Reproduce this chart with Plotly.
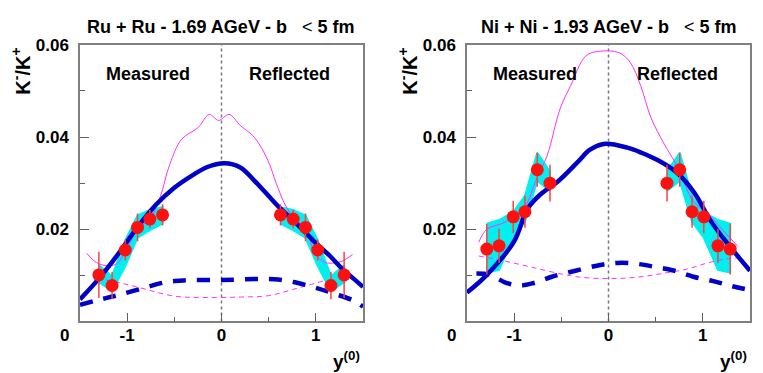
import plotly.graph_objects as go

W, H = 763, 373

# ---- Ru + Ru 1.69 AGeV, measured half (reflected half = mirror) ----
ru_y = [-1.30, -1.16, -1.02, -0.89, -0.76, -0.625]
ru_ratio = [0.0101, 0.0078, 0.0155, 0.0204, 0.0222, 0.0231]
ru_err = [0.0050, 0.0030, 0.0023, 0.0030, 0.0020, 0.0023]
ru_sys_lo = [0.0085, 0.0066, 0.0120, 0.0182, 0.0198, 0.0212]
ru_sys_hi = [0.0122, 0.0098, 0.0176, 0.0230, 0.0242, 0.0248]

ru_model_y = [-1.5, -1.3, -1.1, -0.9, -0.7, -0.5, -0.3, -0.15, 0.03, 0.2, 0.35,
              0.5, 0.61, 0.74, 0.87, 1.0, 1.15, 1.28, 1.4, 1.5]
ru_model = [0.0048, 0.0093, 0.0145, 0.0202, 0.0252, 0.0290, 0.0318, 0.0335, 0.0343,
            0.0334, 0.0305, 0.0272, 0.0248, 0.0223, 0.0197, 0.0170, 0.0142, 0.0114,
            0.0093, 0.0075]
ru_model2_y = [-1.5, -1.3, -1.1, -0.85, -0.6, -0.4, 0.0, 0.4, 0.6, 0.8, 1.0, 1.2, 1.4, 1.5]
ru_model2 = [0.0036, 0.0047, 0.0057, 0.0071, 0.0085, 0.0089, 0.0090, 0.0092, 0.0091,
             0.0084, 0.0073, 0.0060, 0.0045, 0.0032]
ru_up_y = [-1.43, -1.3, -1.12, -1.0, -0.89, -0.76, -0.65, -0.55, -0.42, -0.25, -0.13,
           -0.03, 0.08, 0.2, 0.35, 0.49, 0.58, 0.67, 0.78, 0.88, 1.0, 1.1, 1.2, 1.28, 1.39]
ru_up = [0.0148, 0.0125, 0.0124, 0.0160, 0.0200, 0.0222, 0.0270, 0.0340, 0.0396, 0.0420,
         0.0449, 0.0436, 0.0449, 0.0425, 0.0399, 0.0350, 0.0300, 0.0255, 0.0220, 0.0205,
         0.0145, 0.0128, 0.0127, 0.0131, 0.0145]
ru_lo_y = [-1.32, -1.1, -0.9, -0.5, -0.2, 0.2, 0.5, 0.8, 1.1]
ru_lo = [0.0093, 0.0085, 0.0075, 0.0055, 0.0052, 0.0053, 0.0056, 0.0072, 0.0089]

# ---- Ni + Ni 1.93 AGeV ----
ni_y = [-1.29, -1.16, -1.01, -0.886, -0.755, -0.62]
ni_ratio = [0.0157, 0.0164, 0.0227, 0.0238, 0.0329, 0.0300]
ni_err = [0.0055, 0.0037, 0.0035, 0.0035, 0.0037, 0.0040]
ni_sys_lo = [0.0106, 0.0112, 0.0182, 0.0216, 0.0305, 0.0283]
ni_sys_hi = [0.0212, 0.0220, 0.0237, 0.0272, 0.0366, 0.0325]

ni_model_y = [-1.5, -1.3, -1.0, -0.86, -0.72, -0.54, -0.33, -0.2, -0.05, 0.2, 0.35,
              0.52, 0.73, 0.91, 1.09, 1.27, 1.5]
ni_model = [0.0063, 0.0099, 0.0174, 0.0244, 0.0276, 0.0303, 0.0345, 0.0372, 0.0385,
            0.0377, 0.0366, 0.0350, 0.0322, 0.0279, 0.0216, 0.0167, 0.0110]
ni_model2_y = [-1.4, -1.25, -1.1, -0.95, -0.8, -0.6, -0.35, -0.1, 0.1, 0.3, 0.5, 0.7,
               0.9, 1.1, 1.3, 1.5]
ni_model2 = [0.0104, 0.0101, 0.0085, 0.0078, 0.0083, 0.0097, 0.0110, 0.0122, 0.0127,
             0.0125, 0.0118, 0.0110, 0.0097, 0.0088, 0.0077, 0.0068]
ni_up_y = [-1.375, -1.29, -1.1, -0.9, -0.76, -0.65, -0.51, -0.40, -0.24, -0.1, 0.11,
           0.23, 0.34, 0.45, 0.59, 0.73, 0.9, 1.05, 1.16, 1.37]
ni_up = [0.0172, 0.0200, 0.0215, 0.0245, 0.0310, 0.0360, 0.0463, 0.0512, 0.0576, 0.0586,
         0.0583, 0.0562, 0.0512, 0.0442, 0.0385, 0.0336, 0.0260, 0.0235, 0.0210, 0.0163]
ni_lo_y = [-1.375, -1.1, -0.8, -0.5, -0.3, 0.0, 0.3, 0.6, 0.84, 1.05, 1.23, 1.37]
ni_lo = [0.0142, 0.0131, 0.0117, 0.0103, 0.0096, 0.0093, 0.0096, 0.0105, 0.0114, 0.0127,
         0.0135, 0.0138]

panels = [
    ("x", "y", ru_y, ru_ratio, ru_err, ru_sys_lo, ru_sys_hi, ru_model_y, ru_model,
     ru_model2_y, ru_model2, ru_up_y, ru_up, ru_lo_y, ru_lo),
    ("x2", "y2", ni_y, ni_ratio, ni_err, ni_sys_lo, ni_sys_hi, ni_model_y, ni_model,
     ni_model2_y, ni_model2, ni_up_y, ni_up, ni_lo_y, ni_lo),
]

BLUE = "#0000c8"
MAG = "#ff30ff"
fig = go.Figure()

for (xa, ya, yy, r, e, slo, shi, my, m, m2y, m2, uy, u, ly, lo) in panels:
    refl_y = [-v for v in yy][::-1]
    # cyan systematic bands (measured + reflected)
    for xs, lo_b, hi_b in [(yy, slo, shi), (refl_y, slo[::-1], shi[::-1])]:
        fig.add_trace(go.Scatter(x=xs + xs[::-1], y=hi_b + lo_b[::-1], fill="toself",
                                 fillcolor="#00f0f0", line=dict(color="#00f0f0", width=2),
                                 mode="lines", xaxis=xa, yaxis=ya, hoverinfo="skip"))
    # dotted line at y=0
    fig.add_trace(go.Scatter(x=[0, 0], y=[0, 0.06], mode="lines",
                             line=dict(color="#777777", width=1.5, dash="dot"),
                             xaxis=xa, yaxis=ya))
    fig.add_trace(go.Scatter(x=uy, y=u, mode="lines", line=dict(color=MAG, width=1, shape="spline"),
                             xaxis=xa, yaxis=ya))
    fig.add_trace(go.Scatter(x=ly, y=lo, mode="lines",
                             line=dict(color=MAG, width=1, dash="5px,4px", shape="spline"),
                             xaxis=xa, yaxis=ya))
    fig.add_trace(go.Scatter(x=my, y=m, mode="lines", line=dict(color=BLUE, width=4.5, shape="spline"),
                             xaxis=xa, yaxis=ya))
    fig.add_trace(go.Scatter(x=m2y, y=m2, mode="lines",
                             line=dict(color=BLUE, width=4.5, dash="13px,11px", shape="spline"),
                             xaxis=xa, yaxis=ya))
    fig.add_trace(go.Scatter(x=yy + refl_y, y=r + r[::-1], mode="markers",
                             marker=dict(color="#ff1010", size=13),
                             error_y=dict(type="data", array=e + e[::-1], color="#ff4040",
                                          thickness=1.5, width=0),
                             xaxis=xa, yaxis=ya))

tickfont = dict(family="Liberation Sans", size=17, color="black", weight="bold")
axis_common = dict(showline=True, linecolor="#808080", linewidth=1.5, mirror=True,
                   ticks="inside", ticklen=9, tickcolor="#606060", showgrid=False,
                   zeroline=False, tickfont=tickfont)
xax = dict(axis_common, range=[-1.5, 1.5], tickvals=[-1, 0, 1], ticktext=["-1", "0", "1"],
           minor=dict(tickvals=[-0.5, 0.5], ticks="inside", ticklen=5, tickcolor="#606060"),
           ticklabelstandoff=-3)
yax = dict(axis_common, range=[0, 0.06], tickvals=[0.02, 0.04, 0.06],
           ticktext=["0.02", "0.04", "0.06"],
           minor=dict(tickvals=[0.01, 0.03, 0.05], ticks="inside", ticklen=5, tickcolor="#606060"),
           ticklabelstandoff=6)

ydom = [1 - 312 / H, 1 - 28.5 / H]
fig.update_layout(
    width=W, height=H, margin=dict(l=0, r=0, t=0, b=0),
    paper_bgcolor="white", plot_bgcolor="white", showlegend=False,
    xaxis=dict(xax, domain=[72 / W, 355 / W], anchor="y"),
    yaxis=dict(yax, domain=ydom, anchor="x"),
    xaxis2=dict(xax, domain=[459 / W, 742 / W], anchor="y2"),
    yaxis2=dict(yax, domain=ydom, anchor="x2"),
)


def note(text, px, py, xanchor="center", yanchor="middle", angle=0, size=18):
    fig.add_annotation(text=text, x=px / W, y=1 - py / H, xref="paper", yref="paper",
                       xanchor=xanchor, yanchor=yanchor, showarrow=False, textangle=angle,
                       font=dict(family="Liberation Sans", size=size, color="black",
                                 weight="bold"))


note("Ru + Ru - 1.69 AGeV - b\u00a0\u00a0\u00a0<span style='font-weight:normal'>&lt;</span> 5 fm", 212, 10)
note("Ni + Ni - 1.93 AGeV - b\u00a0\u00a0\u00a0<span style='font-weight:normal'>&lt;</span> 5 fm", 600, 10)
for off in (0, 387):
    note("K<sup>-</sup>/K<sup>+</sup>", 13 + off, 56, angle=-90, size=20)
    note("0", 63 + off, 326, xanchor="right", size=17)
    note("y<sup>(0)</sup>", 354 + off, 366, xanchor="right", yanchor="bottom", size=19)
note("Measured", 140, 58)
note("Reflected", 281, 58)
note("Measured", 527, 58)
note("Reflected", 669, 58)

fig.write_html("out.html")
